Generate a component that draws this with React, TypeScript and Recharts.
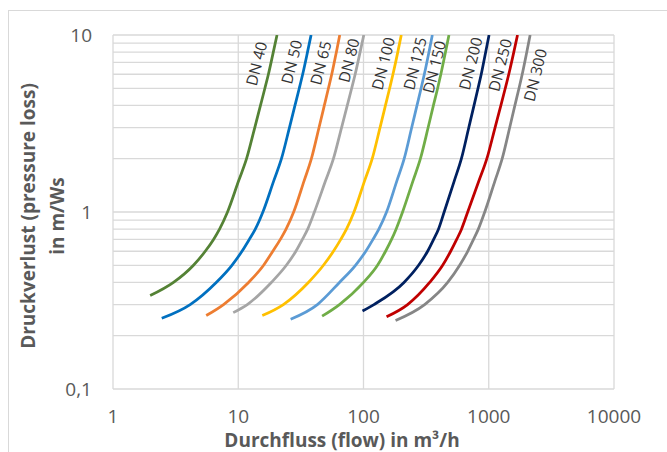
import { LineChart, Line, XAxis, YAxis, CartesianGrid, ReferenceDot } from 'recharts'

// pipe sizes, left to right
const names = ['DN 40', 'DN 50', 'DN 65', 'DN 80', 'DN 100', 'DN 125', 'DN 150', 'DN 200', 'DN 250', 'DN 300']
const colors = ['#548235', '#0070C0', '#ED7D31', '#A5A5A5', '#FFC000', '#5B9BD5', '#70AD47', '#002060', '#C00000', '#868686']

// pressure loss levels (m/Ws) at which the curves were read; first value is each curve's start
const levels = [0.3, 0.4, 0.5, 0.6, 0.7, 0.8, 1, 1.5, 2, 3, 4, 5, 6, 8, 10]

// flow in m³/h
const dn40Flow = [1.98, 3.04, 4.39, 5.45, 6.35, 7.09, 8.21, 10.07, 11.65, 13.55, 15.05, 16.32, 17.41, 19.05, 20.4]
const dn40Loss = [0.337, 0.4, 0.5, 0.6, 0.7, 0.8, 1, 1.5, 2, 3, 4, 5, 6, 8, 10]
const dn50Flow = [2.45, 4.13, 6.67, 8.9, 10.71, 12.25, 13.68, 15.73, 19.2, 22.13, 25.63, 28.37, 30.71, 32.69, 35.71, 38.15]
const dn65Flow = [5.55, 7.63, 12.09, 15.94, 18.88, 21.68, 24.08, 27.7, 33.55, 38.37, 44.15, 48.67, 52.48, 55.78, 60.71, 64.62]
const dn80Flow = [9.12, 11.8, 18.37, 24.21, 28.84, 32.51, 35.85, 40.55, 49.75, 57.54, 66.83, 74.22, 80.46, 85.81, 93.94, 100.55]
const dn100Flow = [15.56, 22.91, 36.31, 47.86, 57.54, 65.84, 73.11, 83.95, 102.0, 117.4, 135.5, 149.7, 161.7, 171.9, 187.8, 200.3]
const dn125Flow = [26.2, 42.85, 64.27, 86.3, 104.3, 119.1, 132.6, 152.8, 184.7, 211.3, 242.6, 267.4, 288.4, 305.9, 333.0, 354.5]
const dn150Flow = [46.72, 64.27, 100, 129.4, 150.0, 167.5, 182.0, 205.1, 248.4, 284.7, 328.1, 361.6, 390.8, 414.5, 451.2, 481.3]
const dn200Flow = [98.17, 121.1, 210.5, 275.4, 325.1, 363.1, 396.6, 440.6, 530.7, 604.8, 693.0, 762.9, 821.1, 871.0, 944.6, 1005.5]
const dn250Flow = [152.8, 224.9, 337.3, 428.5, 496.6, 554.6, 606.0, 679.2, 834.8, 965.6, 1123, 1250, 1355, 1445, 1585, 1697]
const dn300Flow = [180.3, 307.6, 469.9, 586.1, 679.2, 755.9, 825.6, 929.0, 1121, 1280, 1470, 1617, 1744, 1850, 2011, 2140]

// starting pressure loss of each curve (DN 50 .. DN 300)
const startLoss = [0.251, 0.26, 0.27, 0.26, 0.248, 0.258, 0.276, 0.256, 0.244]

const flows = [dn40Flow, dn50Flow, dn65Flow, dn80Flow, dn100Flow, dn125Flow, dn150Flow, dn200Flow, dn250Flow, dn300Flow]
const losses = [dn40Loss, ...startLoss.map((s) => [s, ...levels])]

// where each DN caption sits (flow, loss)
const labelFlow = [13.9, 26.5, 45.3, 75.9, 143, 256, 365, 712, 1224, 2333]
const labelLoss = [6.9, 7.05, 6.95, 7.2, 6.9, 6.9, 6.6, 6.9, 6.77, 5.94]

const xTicks = [1, 10, 100, 1000, 10000]
const yTicks = [0.1, 0.2, 0.3, 0.4, 0.5, 0.6, 0.7, 0.8, 0.9, 1, 2, 3, 4, 5, 6, 7, 8, 9, 10]

const series = names.map((name, i) => ({
  name,
  color: colors[i],
  data: flows[i].map((q, j) => ({ q, p: losses[i][j] })),
}))

const textColor = '#595959'
const font = '"Open Sans", sans-serif'

const fmtY = (v: number) => (v === 10 ? '10' : v === 1 ? '1' : Math.abs(v - 0.1) < 1e-9 ? '0,1' : '')

export default function App() {
  return (
    <div style={{ position: 'absolute', left: 0, top: 0, width: 667, height: 452, overflow: 'hidden', background: '#fff', fontFamily: font }}>
      <div style={{ position: 'absolute', left: 8, top: 10, width: 720, height: 520, border: '1px solid #d9d9d9' }} />
      <LineChart width={667} height={452} margin={{ top: 35, right: 53, bottom: 0, left: 0 }}>
        <CartesianGrid stroke="#d9d9d9" strokeWidth={1.3} />
        <XAxis
          type="number"
          dataKey="q"
          scale="log"
          domain={[1, 10000]}
          ticks={xTicks}
          allowDataOverflow
          height={63}
          axisLine={false}
          tickLine={false}
          tickSize={0}
          tickMargin={21}
          interval={0}
          tick={{ fill: textColor, fontSize: 19, fontFamily: font }}
        />
        <YAxis
          type="number"
          dataKey="p"
          scale="log"
          domain={[0.1, 10]}
          ticks={yTicks}
          allowDataOverflow
          width={113}
          axisLine={false}
          tickLine={false}
          tickSize={0}
          tickMargin={21}
          interval={0}
          tickFormatter={fmtY}
          tick={{ fill: textColor, fontSize: 19, fontFamily: font }}
        />
        {series.map((s) => (
          <Line
            key={s.name}
            data={s.data}
            dataKey="p"
            type="monotone"
            stroke={s.color}
            strokeWidth={2.75}
            dot={false}
            activeDot={false}
            isAnimationActive={false}
          />
        ))}
        {names.map((n, i) => (
          <ReferenceDot
            key={n}
            x={labelFlow[i]}
            y={labelLoss[i]}
            r={1}
            shape={(props: any) => (
              <text
                x={props.cx}
                y={props.cy}
                transform={`rotate(-76 ${props.cx} ${props.cy})`}
                textAnchor="middle"
                dominantBaseline="central"
                fontSize={15.5}
                fontFamily={font}
                fill="#333333"
              >
                {n}
              </text>
            )}
          />
        ))}
      </LineChart>
      <div
        style={{
          position: 'absolute',
          left: 342,
          top: 440,
          transform: 'translate(-50%, -50%)',
          whiteSpace: 'nowrap',
          lineHeight: '20px',
          fontWeight: 700,
          fontSize: 19,
          color: textColor,
        }}
      >
        Durchfluss (flow) in m³/h
      </div>
      <div
        style={{
          position: 'absolute',
          left: 43,
          top: 216,
          transform: 'translate(-50%, -50%) rotate(-90deg)',
          whiteSpace: 'nowrap',
          textAlign: 'center',
          lineHeight: '29px',
          fontWeight: 700,
          fontSize: 19,
          color: textColor,
        }}
      >
        Druckverlust (pressure loss)
        <br />
        in m/Ws
      </div>
    </div>
  )
}
